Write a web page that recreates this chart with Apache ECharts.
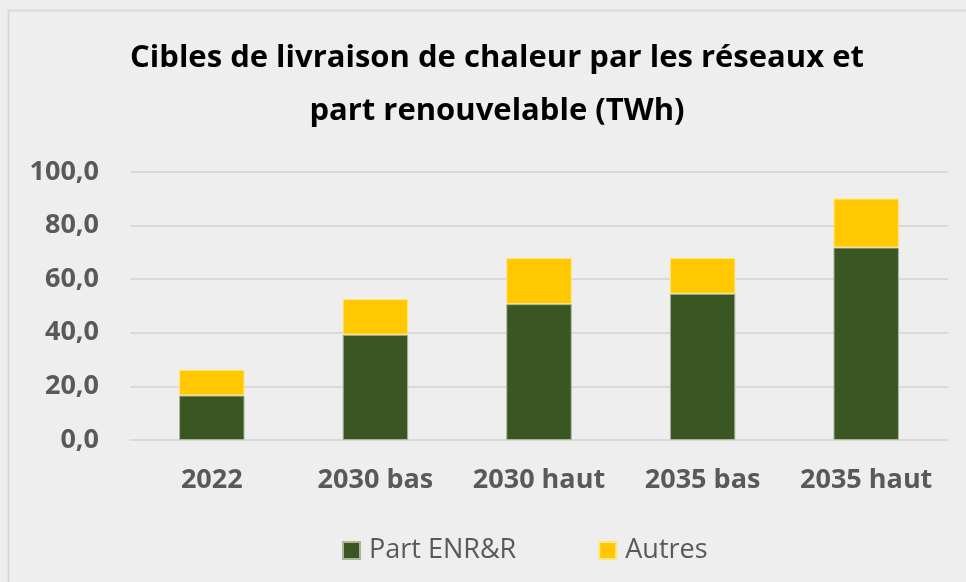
<!DOCTYPE html>
<html>
<head>
<meta charset="utf-8">
<script src="https://cdn.jsdelivr.net/npm/echarts@6/dist/echarts.min.js"></script>
<style>
  html, body { margin: 0; padding: 0; background: #eeeeee; }
  #main { width: 966px; height: 582px; }
</style>
</head>
<body>
<div id="main"></div>
<script>
// données (TWh)
const categories = ['2022', '2030 bas', '2030 haut', '2035 bas', '2035 haut']
const partEnr = [16.6, 39.3, 50.7, 54.6, 71.8]
const autres = [9.6, 13.3, 17.2, 13.3, 18.3]

const chart = echarts.init(document.getElementById('main'))
const font = '"Open Sans", sans-serif'

chart.setOption({
  backgroundColor: '#eeeeee',
  textStyle: { fontFamily: font },
  graphic: [{
    type: 'rect',
    shape: { x: 8.5, y: 10.5, width: 1000, height: 1000 },
    style: { fill: 'none', stroke: '#d9d9d9', lineWidth: 2 }
  }],
  title: {
    text: 'Cibles de livraison de chaleur par les réseaux et\npart renouvelable (TWh)',
    left: 492,
    textAlign: 'center',
    top: 27,
    textStyle: {
      fontFamily: font,
      fontSize: 31,
      fontWeight: 'bold',
      color: '#000000',
      lineHeight: 53
    }
  },
  legend: {
    bottom: 13,
    left: 337,
    itemWidth: 17,
    itemHeight: 17,
    itemGap: 82,
    icon: 'rect',
    textStyle: { fontFamily: font, fontSize: 27, color: '#595959', padding: [0, 0, 0, 4] },
    data: ['Part ENR&R', 'Autres']
  },
  grid: { left: 130, right: 18, top: 172, bottom: 142 },
  xAxis: {
    type: 'category',
    data: categories,
    axisLine: { lineStyle: { color: '#d9d9d9', width: 2 } },
    axisTick: { show: false },
    axisLabel: { interval: 0, fontFamily: font, fontSize: 27, fontWeight: 'bold', color: '#595959', margin: 27 }
  },
  yAxis: {
    type: 'value',
    min: 0,
    max: 100,
    interval: 20,
    axisLine: { show: false },
    axisTick: { show: false },
    splitLine: { lineStyle: { color: '#d9d9d9', width: 2 } },
    axisLabel: {
      fontFamily: font, fontSize: 27, fontWeight: 'bold', color: '#595959', margin: 31,
      formatter: v => v.toFixed(1).replace('.', ',')
    }
  },
  series: [
    {
      name: 'Part ENR&R',
      type: 'bar',
      stack: 'total',
      barWidth: '40%',
      data: partEnr,
      itemStyle: { color: '#3a5623', borderColor: '#a9b5a0', borderWidth: 1 }
    },
    {
      name: 'Autres',
      type: 'bar',
      stack: 'total',
      data: autres,
      itemStyle: { color: '#ffc800', borderColor: '#ffe680', borderWidth: 1 }
    }
  ]
})
</script>
</body>
</html>
